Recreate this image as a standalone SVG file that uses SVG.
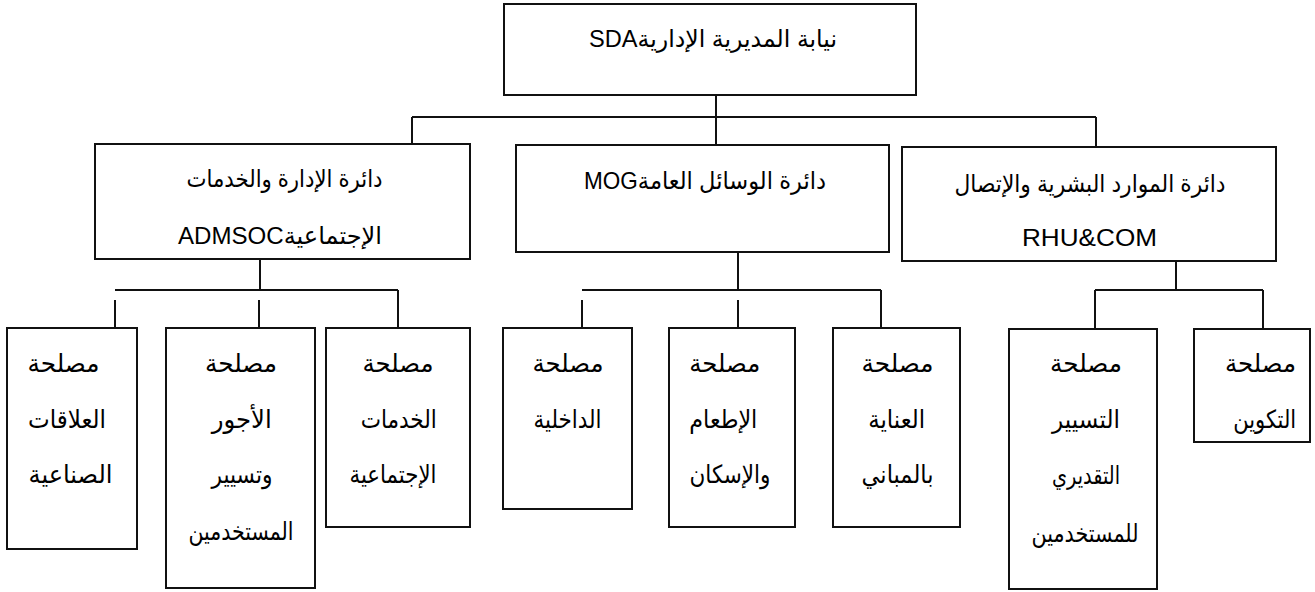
<svg xmlns="http://www.w3.org/2000/svg" width="1315" height="592" viewBox="0 0 1315 592">
<style>
.box{fill:#fff;stroke:#111;stroke-width:2}
.ln{fill:none;stroke:#111;stroke-width:2}
text{font-family:"Liberation Sans","DejaVu Sans",sans-serif;font-size:24px;fill:#000;text-anchor:middle;direction:rtl}
.s text{font-size:25px}
</style>
<rect width="1315" height="592" fill="#fff"/>
<g id="connectors">
<path class="ln" d="M716 95V145M412 117H1096M412 117V144M1096 117V147"/>
<path class="ln" d="M260 259V290M115 290H398M398 290V328M115 300V339M259 300V339"/>
<path class="ln" d="M738 252V290M582 290H881M881 290V328M582 300V339M738 300V339"/>
<path class="ln" d="M1176 261V290M1095 290H1263M1095 290V329M1263 290V329"/>
</g>
<g id="n-sda"><rect class="box" x="504" y="4" width="412" height="91"/><text x="713" y="47" textLength="248" lengthAdjust="spacingAndGlyphs">نيابة المديرية الإداريةSDA</text></g>
<g id="n-admsoc"><rect class="box" x="95" y="144" width="375" height="115"/><text x="284.5" y="187" textLength="196" lengthAdjust="spacingAndGlyphs">دائرة الإدارة والخدمات</text><text x="280" y="244" textLength="204" lengthAdjust="spacingAndGlyphs">الإجتماعيةADMSOC</text></g>
<g id="n-mog"><rect class="box" x="516" y="145" width="373" height="107"/><text x="705" y="189" textLength="242" lengthAdjust="spacingAndGlyphs">دائرة الوسائل العامةMOG</text></g>
<g id="n-rhu"><rect class="box" x="902" y="147" width="374" height="114"/><text x="1090" y="192" textLength="271" lengthAdjust="spacingAndGlyphs">دائرة الموارد البشرية والإتصال</text><text x="1089.5" y="246" textLength="135" lengthAdjust="spacingAndGlyphs">RHU&amp;COM</text></g>
<g id="n-a" class="s"><rect class="box" x="7" y="328" width="130" height="221"/><text x="63.5" y="372" textLength="72" lengthAdjust="spacingAndGlyphs">مصلحة</text><text x="67" y="428" textLength="78" lengthAdjust="spacingAndGlyphs">العلاقات</text><text x="70.5" y="483" textLength="84" lengthAdjust="spacingAndGlyphs">الصناعية</text></g>
<g id="n-b" class="s"><rect class="box" x="166" y="328" width="149" height="260"/><text x="241" y="372" textLength="72" lengthAdjust="spacingAndGlyphs">مصلحة</text><text x="241.7" y="428" textLength="60" lengthAdjust="spacingAndGlyphs">الأجور</text><text x="242" y="483" textLength="61" lengthAdjust="spacingAndGlyphs">وتسيير</text><text x="241" y="540" textLength="105" lengthAdjust="spacingAndGlyphs">المستخدمين</text></g>
<g id="n-c" class="s"><rect class="box" x="326" y="328" width="144" height="199"/><text x="398" y="372" textLength="71" lengthAdjust="spacingAndGlyphs">مصلحة</text><text x="398.7" y="428" textLength="76" lengthAdjust="spacingAndGlyphs">الخدمات</text><text x="393" y="483" textLength="87" lengthAdjust="spacingAndGlyphs">الإجتماعية</text></g>
<g id="n-d" class="s"><rect class="box" x="503" y="328" width="129" height="181"/><text x="568" y="372" textLength="71" lengthAdjust="spacingAndGlyphs">مصلحة</text><text x="567.5" y="428" textLength="68" lengthAdjust="spacingAndGlyphs">الداخلية</text></g>
<g id="n-e" class="s"><rect class="box" x="669" y="328" width="126" height="199"/><text x="724.7" y="372" textLength="71" lengthAdjust="spacingAndGlyphs">مصلحة</text><text x="723.3" y="428" textLength="68" lengthAdjust="spacingAndGlyphs">الإطعام</text><text x="730" y="483" textLength="81" lengthAdjust="spacingAndGlyphs">والإسكان</text></g>
<g id="n-f" class="s"><rect class="box" x="833" y="328" width="127" height="199"/><text x="897.5" y="372" textLength="72" lengthAdjust="spacingAndGlyphs">مصلحة</text><text x="896.7" y="428" textLength="57" lengthAdjust="spacingAndGlyphs">العناية</text><text x="897.5" y="483" textLength="72" lengthAdjust="spacingAndGlyphs">بالمباني</text></g>
<g id="n-g" class="s"><rect class="box" x="1009" y="329" width="148" height="260"/><text x="1086" y="372" textLength="72" lengthAdjust="spacingAndGlyphs">مصلحة</text><text x="1086" y="428" textLength="68" lengthAdjust="spacingAndGlyphs">التسيير</text><text x="1086" y="484" textLength="68" lengthAdjust="spacingAndGlyphs">التقديري</text><text x="1085" y="542" textLength="107" lengthAdjust="spacingAndGlyphs">للمستخدمين</text></g>
<g id="n-h" class="s"><rect class="box" x="1194" y="329" width="116" height="113"/><text x="1260.5" y="372" textLength="71" lengthAdjust="spacingAndGlyphs">مصلحة</text><text x="1264.7" y="428" textLength="63" lengthAdjust="spacingAndGlyphs">التكوين</text></g>
</svg>
